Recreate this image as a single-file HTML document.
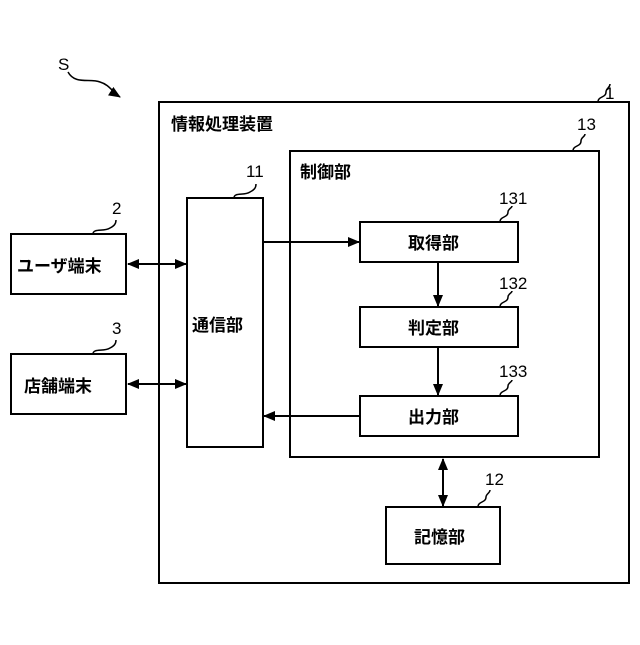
<!DOCTYPE html>
<html><head><meta charset="utf-8"><style>
html,body{margin:0;padding:0;background:#fff;}
svg text{font-family:"Liberation Sans","Noto Sans CJK JP",sans-serif;font-weight:bold;fill:#000;}
svg text.n{font-weight:normal;}
</style></head><body>
<svg width="640" height="640" viewBox="0 0 640 640" xmlns="http://www.w3.org/2000/svg">
<defs>
<marker id="a" markerWidth="12" markerHeight="10" refX="11" refY="5" orient="auto-start-reverse" markerUnits="userSpaceOnUse">
<path d="M0,0 L12,5 L0,10 z" fill="#000"/></marker>
</defs>
<g fill="none" stroke="#000" stroke-width="2">
<rect x="159" y="102" width="470" height="481"/>
<rect x="290" y="151" width="309" height="306"/>
<rect x="187" y="198" width="76" height="249"/>
<rect x="11" y="234" width="115" height="60"/>
<rect x="11" y="354" width="115" height="60"/>
<rect x="360" y="222" width="158" height="40"/>
<rect x="360" y="307" width="158" height="40"/>
<rect x="360" y="396" width="158" height="40"/>
<rect x="386" y="507" width="114" height="57"/>
<line x1="128" y1="264" x2="186" y2="264" marker-start="url(#a)" marker-end="url(#a)"/>
<line x1="128" y1="384" x2="186" y2="384" marker-start="url(#a)" marker-end="url(#a)"/>
<line x1="263" y1="242" x2="359" y2="242" marker-end="url(#a)"/>
<line x1="360" y1="416" x2="264" y2="416" marker-end="url(#a)"/>
<line x1="438" y1="262" x2="438" y2="306" marker-end="url(#a)"/>
<line x1="438" y1="347" x2="438" y2="395" marker-end="url(#a)"/>
<line x1="443" y1="459" x2="443" y2="506" marker-start="url(#a)" marker-end="url(#a)"/>
<g stroke-width="1.5">
<path d="M68,72 C75,85 90,78 100,82 C110,85 112,92 120,97" marker-end="url(#a)"/>
<path d="M598,102 C598,96 606,98 606,92 C606,88 610,88 610,84"/>
<path d="M573,151 C573,145 581,147 581,141 C581,137 585,137 585,134"/>
<path d="M234,198 C234,192 244,196 250,192 C254,190 256,188 256,184"/>
<path d="M93,234 C93,228 104,232 110,228 C114,226 116,224 116,220"/>
<path d="M93,354 C93,348 104,352 110,348 C114,346 116,344 116,340"/>
<path d="M500,222 C500,216 508,218 508,212 C508,209 512,208 512,206"/>
<path d="M500,307 C500,301 508,303 508,297 C508,294 512,293 512,291"/>
<path d="M500,396 C500,390 508,392 508,386 C508,383 512,382 512,380"/>
<path d="M478,507 C478,501 486,503 486,497 C486,494 490,493 490,490"/>
</g>
</g>
<g font-size="17">
<text class="n" x="58" y="70" font-size="17">S</text>
<text class="n" x="605" y="99">1</text>
<text class="n" x="577" y="130">13</text>
<text class="n" x="246" y="177">11</text>
<text class="n" x="112" y="214">2</text>
<text class="n" x="112" y="334">3</text>
<text class="n" x="499" y="204">131</text>
<text class="n" x="499" y="289">132</text>
<text class="n" x="499" y="377">133</text>
<text class="n" x="485" y="485">12</text>
<text x="171" y="130">情報処理装置</text>
<text x="300" y="178">制御部</text>
<text x="17" y="272">ユーザ端末</text>
<text x="24" y="392">店舗端末</text>
<text x="192" y="331">通信部</text>
<text x="408" y="249">取得部</text>
<text x="408" y="334">判定部</text>
<text x="408" y="423">出力部</text>
<text x="414" y="543">記憶部</text>
</g>
</svg>
</body></html>
